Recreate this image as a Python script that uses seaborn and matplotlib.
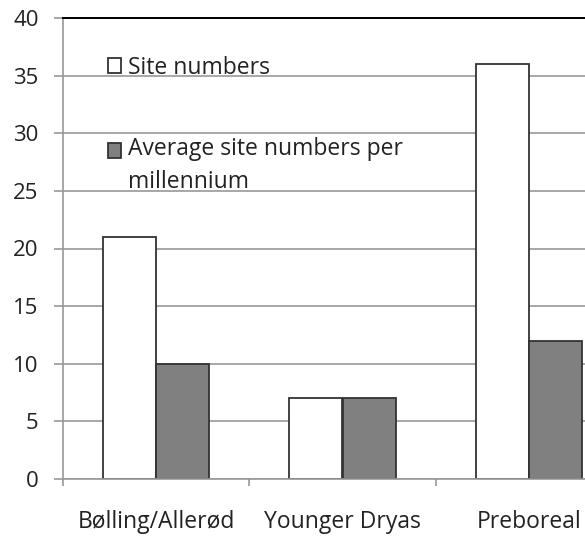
import pandas as pd
import seaborn as sns
import matplotlib.pyplot as plt
from matplotlib.ticker import FixedLocator
from matplotlib.patches import Rectangle
from matplotlib.legend_handler import HandlerPatch

# Dados
periods = ['Bølling/Allerød', 'Younger Dryas', 'Preboreal']
site_numbers = [21, 7, 36]
avg_per_millennium = [10, 7, 12]
series_labels = ['Site numbers', 'Average site numbers per\nmillennium']

df = pd.DataFrame({
    'period': periods * 2,
    'value': site_numbers + avg_per_millennium,
    'series': [series_labels[0]] * 3 + [series_labels[1]] * 3,
})

sns.set_style('white')
plt.rcParams['font.family'] = ['Open Sans', 'DejaVu Sans']

fs = 16.5
grid_gray = '#989898'
fig = plt.figure(figsize=(5.85, 5.42), dpi=100)
# a area do grafico passa da borda direita, como no original
ax = fig.add_axes([63 / 585, 63 / 542, 559 / 585, 461 / 542])

sns.barplot(data=df, x='period', y='value', hue='series', order=periods,
            hue_order=series_labels, palette=['white', '#808080'],
            edgecolor='#333333', linewidth=1.3, width=0.57, ax=ax)

ax.set_xlim(-0.5, 2.5)
ax.set_ylim(0, 40)
ax.set_yticks(range(0, 41, 5))
ax.set_axisbelow(True)
ax.yaxis.grid(True, color=grid_gray, linewidth=1.2)
ax.set_xlabel('')
ax.set_ylabel('')

ax.spines['top'].set_color('black')
ax.spines['top'].set_linewidth(1.4)
ax.spines['left'].set_color(grid_gray)
ax.spines['bottom'].set_color(grid_gray)
ax.spines['left'].set_linewidth(1.2)
ax.spines['bottom'].set_linewidth(1.2)
ax.spines['right'].set_visible(False)

ax.tick_params(axis='y', length=6.5, width=1.2, color=grid_gray, pad=11,
               labelsize=16, labelcolor='#222222', left=True)
ax.tick_params(axis='x', which='major', length=0, pad=22, labelsize=fs,
               labelcolor='#222222')
ax.xaxis.set_minor_locator(FixedLocator([-0.5, 0.5, 1.5, 2.5]))
ax.tick_params(axis='x', which='minor', length=5, width=1.2, color=grid_gray,
               bottom=True)


# quadradinho da legenda alinhado com a primeira linha do texto
def first_line_patch(legend, orig_handle, xdescent, ydescent, width, height, fontsize):
    return Rectangle((-xdescent, -ydescent + 0.7 * fontsize), width, height)


handles, labels = ax.get_legend_handles_labels()
leg = ax.legend(handles, labels, loc='upper left', bbox_to_anchor=(0.08, 0.918),
                frameon=False, borderpad=0, borderaxespad=0, handlelength=0.6,
                handleheight=0.6, handletextpad=0.3, labelspacing=2.5,
                fontsize=fs,
                handler_map={handles[1]: HandlerPatch(patch_func=first_line_patch)})
for t in leg.get_texts():
    t.set_color('#222222')
    t.set_linespacing(1.5)

fig.savefig('out.png', dpi=100)
